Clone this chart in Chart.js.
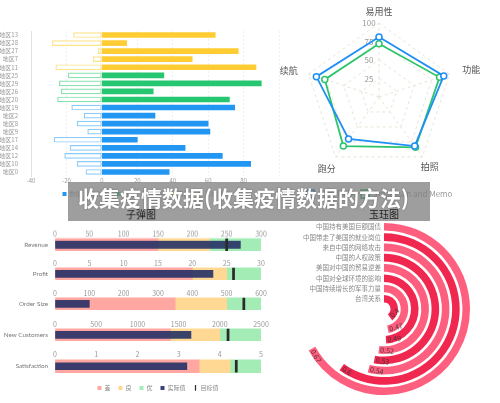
<!DOCTYPE html>
<html lang="zh">
<head>
<meta charset="UTF-8">
<title>收集疫情数据</title>
<script src="https://cdn.jsdelivr.net/npm/chart.js"></script>
<style>
  body { margin: 0; width: 500px; height: 403px; background: #fff; position: relative; overflow: hidden;
         font-family: "Noto Sans CJK SC", "Noto Sans", sans-serif; }
  .box { position: absolute; }
  #banner { position: absolute; left: 68px; top: 182px; width: 362px; height: 39px; z-index: 2;
            background: rgba(128,128,128,0.76); color: #fff; font-weight: bold; font-size: 21px;
            line-height: 30px; padding-left: 10px; box-sizing: border-box; white-space: nowrap;
            text-shadow: 0 0 2px rgba(0,0,0,0.35); }
</style>
</head>
<body>
<div class="box" id="barBox" style="left:0;top:0;width:280px;height:207px;z-index:1"><canvas id="barChart"></canvas></div>
<div class="box" id="radarBox" style="left:280px;top:0;width:220px;height:210px;z-index:1"><canvas id="radarChart"></canvas></div>
<div id="banner">收集疫情数据(收集疫情数据的方法)</div>
<div id="bullets"></div>
<div class="box" id="jadeBox" style="left:298px;top:200px;width:172px;height:198px;z-index:3"><canvas id="jadeChart"></canvas></div>

<script>
// ---- data ----
const barLabels = ['地区13','地区28','地区27','地区7','地区11','地区25','地区29','地区26','地区20',
                   '地区19','地区2','地区8','地区9','地区17','地区14','地区12','地区10','地区0'];
const barPositive = [64, 14, 77, 51, 87, 35, 90, 29, 72, 75, 30, 60, 61, 20, 47, 68, 84, 38];
const barNegative = [-16, -28, -2, -5, -26, -19, -24, -23, -25, -17, -10, -14, -8, -27, -18, -21, -14, -9];
const barGroup = [2, 2, 2, 2, 2, 1, 1, 1, 1, 0, 0, 0, 0, 0, 0, 0, 0, 0];
const barSeriesNames = ['数据', '对比', '指标', '参考', '目标', '基准'];

const radarLabels = ['易用性', '功能', '拍照', '跑分', '续航'];
const radarA = [81, 92, 82, 70, 89];
const radarB = [72, 86, 84, 82, 77];
const radarNames = ['坚果手机A', 'Smartisan and Memo'];

const bulletNames = ['Revenue', 'Profit', 'Order Size', 'New Customers', 'Satisfaction'];
const bulletMax = [300, 30, 600, 2500, 5];
const bulletStep = [50, 5, 100, 500, 1];
const bulletPoor = [150, 20, 350, 1400, 3.5];
const bulletGood = [225, 25, 500, 2000, 4.25];
const bulletActual = [270, 23, 100, 1650, 3.2];
const bulletTarget = [250, 26, 550, 2100, 4.4];
const bulletLegend = ['差', '良', '优', '实际值', '目标值'];

const jadeLabels = ['中国持有美国巨额国债', '中国带走了美国的就业岗位', '来自中国的网络攻击', '中国的人权政策',
                    '美国对中国的贸易逆差', '中国对全球环境的影响', '中国持续增长的军事力量', '台湾关系'];
const jadeValues = [0.67, 0.6, 0.54, 0.53, 0.52, 0.49, 0.47, 0.4];

// ---- common ----
const FONT = '"Noto Sans CJK SC", "Noto Sans", sans-serif';
Chart.defaults.font.family = FONT;
Chart.defaults.animation = false;
Chart.defaults.maintainAspectRatio = false;
Chart.defaults.plugins.tooltip.enabled = false;

// ---- top left: bars ----
const groupFill = ['#2196f3', '#26c770', '#ffcd33'];
const groupLine = ['#8acafb', '#86e1ac', '#ffe186'];
const barDatasets = [];
[0, 1, 2].forEach(g => {
    barDatasets.push({
        label: barSeriesNames[g * 2],
        data: barPositive.map((v, i) => barGroup[i] === g ? v : null),
        backgroundColor: groupFill[g], borderWidth: 0
    });
    barDatasets.push({
        label: barSeriesNames[g * 2 + 1],
        data: barNegative.map((v, i) => barGroup[i] === g ? v : null),
        backgroundColor: '#fff', borderColor: groupLine[g], borderWidth: 1.2, borderSkipped: false
    });
});
new Chart(document.getElementById('barChart'), {
    type: 'bar',
    data: { labels: barLabels, datasets: barDatasets },
    options: {
        indexAxis: 'y',
        barThickness: 5,
        layout: { padding: { top: 31, right: 1 } },
        scales: {
            x: {
                stacked: true, min: -40, max: 100,
                afterFit: s => { s.height = 7; },
                ticks: { stepSize: 20, padding: 1, color: '#999', font: { size: 6 },
                         callback: v => v === 100 ? '' : v },
                grid: { color: '#efefef', drawTicks: false },
                border: { display: false, dash: [2, 2] }
            },
            y: {
                stacked: true,
                afterFit: s => { s.width = 31; },
                ticks: { autoSkip: false, padding: 5, color: '#999', font: { size: 6 } },
                grid: { display: false },
                border: { color: '#e2e2e2' }
            }
        },
        plugins: {
            legend: { position: 'bottom',
                      labels: { boxWidth: 4, boxHeight: 4, padding: 8, color: '#999', font: { size: 6 } } }
        }
    }
});

// ---- top right: radar ----
// label distance beyond the outer ring and text alignment, per axis
const radarLabelGap = [11.3, 13.5, 12.5, 15, 11.5];
const radarLabelAlign = ['center', 'left', 'center', 'center', 'right'];
const radarPointLabels = {
    id: 'radarPointLabels',
    afterDraw(chart) {
        const r = chart.scales.r;
        const ctx = chart.ctx;
        ctx.save();
        ctx.font = '9px ' + FONT;
        ctx.fillStyle = '#555';
        ctx.textBaseline = 'middle';
        radarLabels.forEach((txt, i) => {
            const p = r.getPointPosition(i, r.drawingArea + radarLabelGap[i]);
            ctx.textAlign = radarLabelAlign[i];
            ctx.fillText(txt, p.x, p.y);
        });
        ctx.restore();
    }
};
new Chart(document.getElementById('radarChart'), {
    type: 'radar',
    data: {
        labels: radarLabels,
        datasets: [
            { label: radarNames[0], data: radarA, borderColor: '#1f8ff5', backgroundColor: 'transparent',
              borderWidth: 1.8, pointRadius: 3, pointBackgroundColor: '#fff', pointBorderColor: '#1f8ff5', pointBorderWidth: 1.5 },
            { label: radarNames[1], data: radarB, borderColor: '#2cc46a', backgroundColor: 'transparent',
              borderWidth: 1.8, pointRadius: 3, pointBackgroundColor: '#fff', pointBorderColor: '#2cc46a', pointBorderWidth: 1.5 }
        ]
    },
    options: {
        layout: { padding: { left: 19.3, right: 40.7, top: 10.6, bottom: 2 } },
        scales: {
            r: {
                min: 0, max: 100,
                ticks: { stepSize: 25, showLabelBackdrop: false, color: '#999', font: { size: 8 },
                         callback: v => v === 0 ? '0' : v + '\u2002'.repeat(5) },
                pointLabels: { display: false },
                grid: { color: '#e8e4d6' },
                border: { dash: [3, 3] },
                angleLines: { color: '#e8e4d6', borderDash: [3, 3] }
            }
        },
        plugins: {
            legend: { position: 'bottom',
                      labels: { boxWidth: 8, boxHeight: 8, padding: 6, color: '#999', font: { size: 8 } } }
        }
    },
    plugins: [radarPointLabels]
});

// ---- bottom left: bullet charts ----
const rowCenter = [244, 274, 304, 334.7, 365];
const bulletColors = ['#ffa7a0', '#ffd993', '#a3ecb6', 'rgba(38,49,102,0.9)', '#2a2a2a'];
const bulletWrap = document.getElementById('bullets');
bulletNames.forEach((name, i) => {
    const first = i === 0, last = i === bulletNames.length - 1;
    const left = first ? 21 : 0;
    const top = first ? 207 : rowCenter[i] - 14.9;
    const height = (rowCenter[i] + 6.5 - top) + (last ? 26.8 : 0);
    const box = document.createElement('div');
    box.className = 'box';
    box.style.cssText = `left:${left}px;top:${top}px;width:${270 - left}px;height:${height}px;z-index:3`;
    const cv = document.createElement('canvas');
    box.appendChild(cv);
    bulletWrap.appendChild(box);
    const mx = bulletMax[i];
    new Chart(cv, {
        type: 'bar',
        data: {
            labels: [name],
            datasets: [
                { label: bulletLegend[0], data: [[0, bulletPoor[i]]], backgroundColor: bulletColors[0],
                  barThickness: 13, grouped: false, order: 3 },
                { label: bulletLegend[1], data: [[bulletPoor[i], bulletGood[i]]], backgroundColor: bulletColors[1],
                  barThickness: 13, grouped: false, order: 3 },
                { label: bulletLegend[2], data: [[bulletGood[i], mx]], backgroundColor: bulletColors[2],
                  barThickness: 13, grouped: false, order: 3 },
                { label: bulletLegend[3], data: [[0, bulletActual[i]]], backgroundColor: bulletColors[3],
                  barThickness: 7, grouped: false, order: 2 },
                { label: bulletLegend[4], data: [[bulletTarget[i] - mx * 0.005, bulletTarget[i] + mx * 0.005]],
                  backgroundColor: bulletColors[4], barThickness: 12, grouped: false, order: 1 }
            ]
        },
        options: {
            indexAxis: 'y',
            layout: { padding: { right: 9 } },
            scales: {
                x: {
                    position: 'top', min: 0, max: mx, z: 1,
                    afterFit: s => { s.height = 8.4; },
                    ticks: { stepSize: bulletStep[i], padding: 0, color: '#999', font: { size: 7 },
                             callback: v => String(v) },
                    grid: { color: 'rgba(255,255,255,0.75)', drawTicks: false },
                    border: { display: false, dash: [2, 2] }
                },
                y: {
                    afterFit: s => { s.width = 55 - left; s.paddingTop = 0; s.paddingBottom = 0; },
                    ticks: { padding: 7, color: '#777', font: { size: 6.3, family: 'Lato, "Noto Sans", sans-serif' } },
                    grid: { display: false, drawTicks: false },
                    border: { display: false }
                }
            },
            plugins: {
                title: { display: first, text: '子弹图', color: '#222', font: { size: 10, weight: 'normal' },
                         padding: { top: 1, bottom: 9 } },
                legend: {
                    display: last, position: 'bottom', fullSize: false,
                    title: { display: true, text: '', font: { size: 1 }, padding: { top: 0, bottom: 1.6 } },
                    labels: {
                        usePointStyle: true, boxWidth: 4, boxHeight: 4, padding: 8, color: '#888', font: { size: 6 },
                        generateLabels: chart => chart.data.datasets.map((ds, k) => ({
                            text: ds.label, fillStyle: ds.backgroundColor, strokeStyle: ds.backgroundColor,
                            lineWidth: k === 4 ? 1.2 : 0, pointStyle: k === 4 ? 'line' : 'rect',
                            rotation: k === 4 ? 90 : 0, datasetIndex: k, hidden: false, fontColor: '#888'
                        }))
                    }
                }
            }
        }
    });
});

// ---- bottom right: jade (radial bars) ----
const jadeColors = ['#ff5f7f', '#f0284f'];
const jadeDatasets = [];
jadeValues.forEach((v, i) => {
    jadeDatasets.push({ data: [v, 1 - v], backgroundColor: [jadeColors[i % 2], 'rgba(0,0,0,0)'], borderWidth: 0, weight: 1 });
    if (i < jadeValues.length - 1) {
        jadeDatasets.push({ data: [1], backgroundColor: ['rgba(0,0,0,0)'], borderWidth: 0, weight: 0.35 });
    }
});
const jadeText = {
    id: 'jadeText',
    afterDatasetsDraw(chart) {
        const ctx = chart.ctx;
        jadeLabels.forEach((name, i) => {
            const p = chart.getDatasetMeta(i * 2).data[0]
                .getProps(['x', 'y', 'endAngle', 'innerRadius', 'outerRadius'], true);
            const r = (p.innerRadius + p.outerRadius) / 2;
            ctx.save();
            ctx.fillStyle = '#888';
            ctx.font = '6.5px ' + FONT;
            ctx.textAlign = 'right';
            ctx.textBaseline = 'middle';
            ctx.fillText(name, p.x - 3, p.y - r);
            const a = p.endAngle - 1.5 / r;
            ctx.translate(p.x + r * Math.cos(a), p.y + r * Math.sin(a));
            ctx.rotate(a - Math.PI / 2);
            ctx.fillStyle = '#4d2f38';
            ctx.font = '7px ' + FONT;
            ctx.textAlign = 'left';
            ctx.fillText(String(jadeValues[i]), 0, 0);
            ctx.restore();
        });
    }
};
new Chart(document.getElementById('jadeChart'), {
    type: 'doughnut',
    data: { labels: ['值', '余'], datasets: jadeDatasets },
    options: {
        cutout: '7.5%',
        plugins: {
            legend: { display: false },
            title: { display: true, text: '玉珏图', color: '#222', font: { size: 10, weight: 'normal' },
                     padding: { top: 8, bottom: 0 } }
        }
    },
    plugins: [jadeText]
});
</script>
</body>
</html>
